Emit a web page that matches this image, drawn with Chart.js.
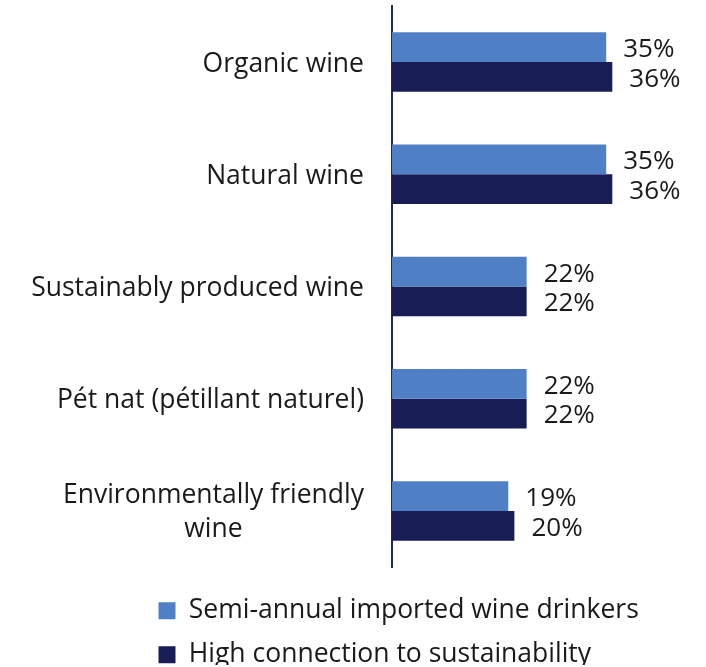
<!DOCTYPE html>
<html>
<head>
<meta charset="utf-8">
<title>Sustainable wine interest</title>
<script src="https://cdn.jsdelivr.net/npm/chart.js@4.4.1/dist/chart.umd.min.js"></script>
<style>
  html, body { margin: 0; padding: 0; background: #ffffff; }
  canvas { display: block; }
</style>
</head>
<body>
<canvas id="chart" width="706" height="667"></canvas>
<script>
// Categories (a nested array is a multi-line label)
const categories = [
  'Organic wine',
  'Natural wine',
  'Sustainably produced wine',
  'Pét nat (pétillant naturel)',
  ['Environmentally friendly', 'wine']
];
const seriesNames = ['Semi-annual imported wine drinkers', 'High connection to sustainability'];
const semiAnnualDrinkers = [35, 35, 22, 22, 19];
const highSustainability = [36, 36, 22, 22, 20];

const LIGHT_BLUE = '#4f80c6';
const NAVY = '#181e55';
const TEXT = '#1a1a1a';
const FONT = "'Open Sans', 'Noto Sans', sans-serif";

// Category labels: right-aligned block, each block's lines centred on each other
const categoryLabels = {
  id: 'categoryLabels',
  afterDraw(chart) {
    const { ctx } = chart;
    const scale = chart.scales.y;
    const rightEdge = chart.chartArea.left - 28;
    const lineGap = 34;
    ctx.save();
    ctx.font = '26.5px ' + FONT;
    ctx.fillStyle = TEXT;
    ctx.textAlign = 'center';
    ctx.textBaseline = 'middle';
    categories.forEach((label, i) => {
      const lines = Array.isArray(label) ? label : [label];
      const maxW = Math.max(...lines.map(l => ctx.measureText(l).width));
      const cx = rightEdge - maxW / 2;
      const cy = scale.getPixelForTick(i) + 2;
      const startY = cy - (lines.length - 1) * lineGap / 2;
      lines.forEach((l, k) => ctx.fillText(l, cx, startY + k * lineGap));
    });
    ctx.restore();
  }
};

// Percentage labels beside each bar
const valueLabels = {
  id: 'valueLabels',
  afterDatasetsDraw(chart) {
    const { ctx } = chart;
    ctx.save();
    ctx.font = '26px ' + FONT;
    ctx.fillStyle = TEXT;
    ctx.textAlign = 'left';
    ctx.textBaseline = 'middle';
    chart.data.datasets.forEach((ds, di) => {
      chart.getDatasetMeta(di).data.forEach((bar, i) => {
        ctx.fillText(ds.data[i] + '%', bar.x + 17, bar.y + 2.5);
      });
    });
    ctx.restore();
  }
};

// Place the legend block with its rows starting from a common left edge
const legendPlacement = {
  id: 'legendPlacement',
  afterLayout(chart) {
    chart.legend.left = 141;
    chart.legend.top = 580;
  }
};

function draw() {
  new Chart(document.getElementById('chart'), {
    type: 'bar',
    data: {
      labels: categories,
      datasets: [
        { label: seriesNames[0], data: semiAnnualDrinkers, backgroundColor: LIGHT_BLUE,
          categoryPercentage: 0.53, barPercentage: 1.0 },
        { label: seriesNames[1], data: highSustainability, backgroundColor: NAVY,
          categoryPercentage: 0.53, barPercentage: 1.0 }
      ]
    },
    options: {
      indexAxis: 'y',
      responsive: false,
      animation: false,
      layout: { padding: { top: 6, right: 8, bottom: 2, left: 0 } },
      scales: {
        x: { display: false, min: 0, max: 50 },
        y: {
          ticks: { display: false },
          grid: { display: false },
          border: { display: true, color: '#1f2a5c', width: 2 },
          afterFit(scale) { scale.width = 392; }
        }
      },
      plugins: {
        tooltip: { enabled: false },
        legend: {
          position: 'bottom',
          align: 'start',
          labels: {
            boxWidth: 17,
            boxHeight: 17,
            padding: 17.5,
            color: TEXT,
            font: { family: FONT, size: 26.5 }
          }
        }
      }
    },
    plugins: [categoryLabels, valueLabels, legendPlacement]
  });
}

if (document.fonts && document.fonts.load) {
  document.fonts.load("26px 'Open Sans'").then(draw, draw);
} else {
  draw();
}
</script>
</body>
</html>
